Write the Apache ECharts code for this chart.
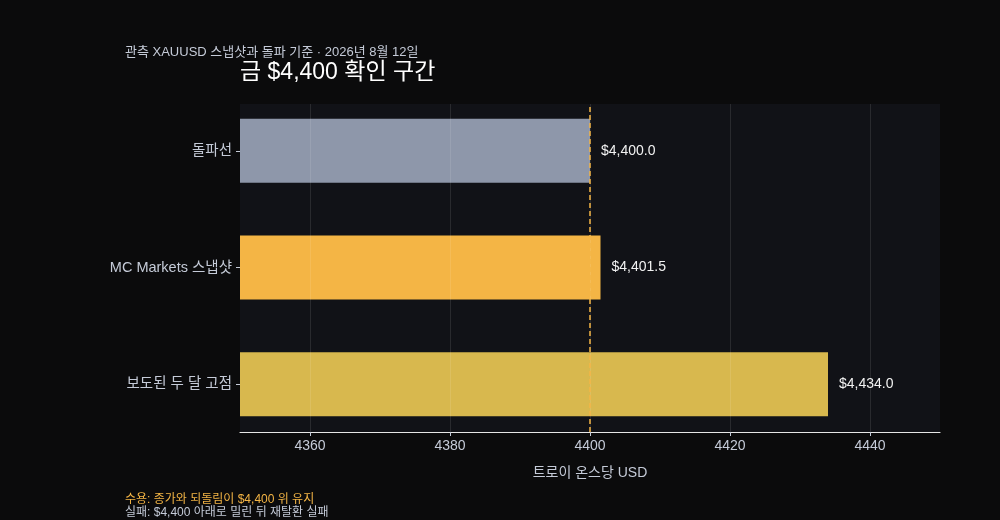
<!DOCTYPE html>
<html>
<head>
<meta charset="utf-8">
<script src="https://cdn.jsdelivr.net/npm/echarts@6/dist/echarts.min.js"></script>
<style>
  html, body { margin: 0; padding: 0; background: #0b0b0c; }
  #chart { width: 1000px; height: 520px; }
</style>
</head>
<body>
<div id="chart"></div>
<script>
// chart data
const categories = ["돌파선", "MC Markets 스냅샷", "보도된 두 달 고점"];
const prices = [4400.0, 4401.5, 4434.0];
const barColors = ["#8e97aa", "#f4b545", "#d8b84e"];
const tickValues = [4360, 4380, 4400, 4420, 4440];
const breakoutLevel = 4400;

const FONT = "'Liberation Sans', Arial, 'Noto Sans CJK KR', sans-serif";
const fmtPrice = (v) =>
  "$" + v.toLocaleString("en-US", { minimumFractionDigits: 1, maximumFractionDigits: 1 });

const chart = echarts.init(document.getElementById("chart"));

const option = {
  backgroundColor: "#0b0b0c",
  textStyle: { fontFamily: FONT },
  animation: false,
  title: [
    {
      text: "관측 XAUUSD 스냅샷과 돌파 기준 · 2026년 8월 12일",
      left: 125, top: 46, padding: 0,
      textStyle: { fontSize: 13, fontWeight: "normal", color: "#c5cbd8", fontFamily: FONT },
    },
    {
      text: "금 $4,400 확인 구간",
      left: 240, top: 61, padding: 0,
      textStyle: { fontSize: 23, fontWeight: "normal", color: "#ffffff", fontFamily: FONT },
    },
    {
      text: "수용: 종가와 되돌림이 $4,400 위 유지",
      left: 125, top: 494, padding: 0,
      textStyle: { fontSize: 12, fontWeight: "normal", color: "#f4b545", fontFamily: FONT },
    },
    {
      text: "실패: $4,400 아래로 밀린 뒤 재탈환 실패",
      left: 125, top: 507, padding: 0,
      textStyle: { fontSize: 12, fontWeight: "normal", color: "#c5cbd8", fontFamily: FONT },
    },
  ],
  grid: [
    // bars
    { left: 240, width: 700, top: 92.5, height: 350, show: false },
    // visible plot frame, gridlines, axis
    { left: 240, width: 700, top: 104, height: 328, show: true, backgroundColor: "#111217", borderWidth: 0 },
  ],
  xAxis: [
    { gridIndex: 0, type: "value", min: 4350, max: 4450, show: false },
    {
      gridIndex: 1, type: "value", min: 4350, max: 4450, z: 5,
      name: "트로이 온스당 USD", nameLocation: "middle", nameGap: 34,
      nameTextStyle: { color: "#c5cbd8", fontSize: 14, fontFamily: FONT },
      axisLine: { show: true, lineStyle: { color: "#e6e6e6", width: 1.2 } },
      axisTick: { show: true, length: 4, customValues: tickValues, lineStyle: { color: "#c5cbd8" } },
      axisLabel: {
        customValues: tickValues, margin: 7, color: "#c5cbd8", fontSize: 14, fontFamily: FONT,
        formatter: (v) => String(v),
      },
      splitLine: { show: true, lineStyle: { color: "rgba(255,255,255,0.1)", width: 1 } },
    },
  ],
  yAxis: [
    {
      gridIndex: 0, type: "category", data: categories, inverse: true,
      axisLine: { show: false },
      axisTick: { show: true, alignWithLabel: true, length: 4, lineStyle: { color: "#c5cbd8" } },
      axisLabel: { margin: 8, color: "#c5cbd8", fontSize: 14.5, fontFamily: FONT },
      splitLine: { show: false },
    },
    { gridIndex: 1, type: "value", min: 0, max: 1, show: false },
  ],
  series: [
    {
      type: "bar",
      xAxisIndex: 0, yAxisIndex: 0,
      barWidth: 64,
      data: prices.map((v, i) => ({ value: v, itemStyle: { color: barColors[i] } })),
      label: {
        show: true, position: "right", distance: 11,
        color: "#f2f2f2", fontSize: 14, fontFamily: FONT,
        formatter: (p) => fmtPrice(p.value),
      },
      z: 2,
    },
    {
      type: "line",
      xAxisIndex: 1, yAxisIndex: 1,
      data: [],
      z: 10,
      markLine: {
        silent: true, symbol: "none", label: { show: false },
        lineStyle: { color: "#f4b545", type: [5, 3], width: 1.5 },
        data: [{ xAxis: breakoutLevel }],
      },
    },
  ],
};

chart.setOption(option);
window.addEventListener("resize", () => chart.resize());
</script>
</body>
</html>
